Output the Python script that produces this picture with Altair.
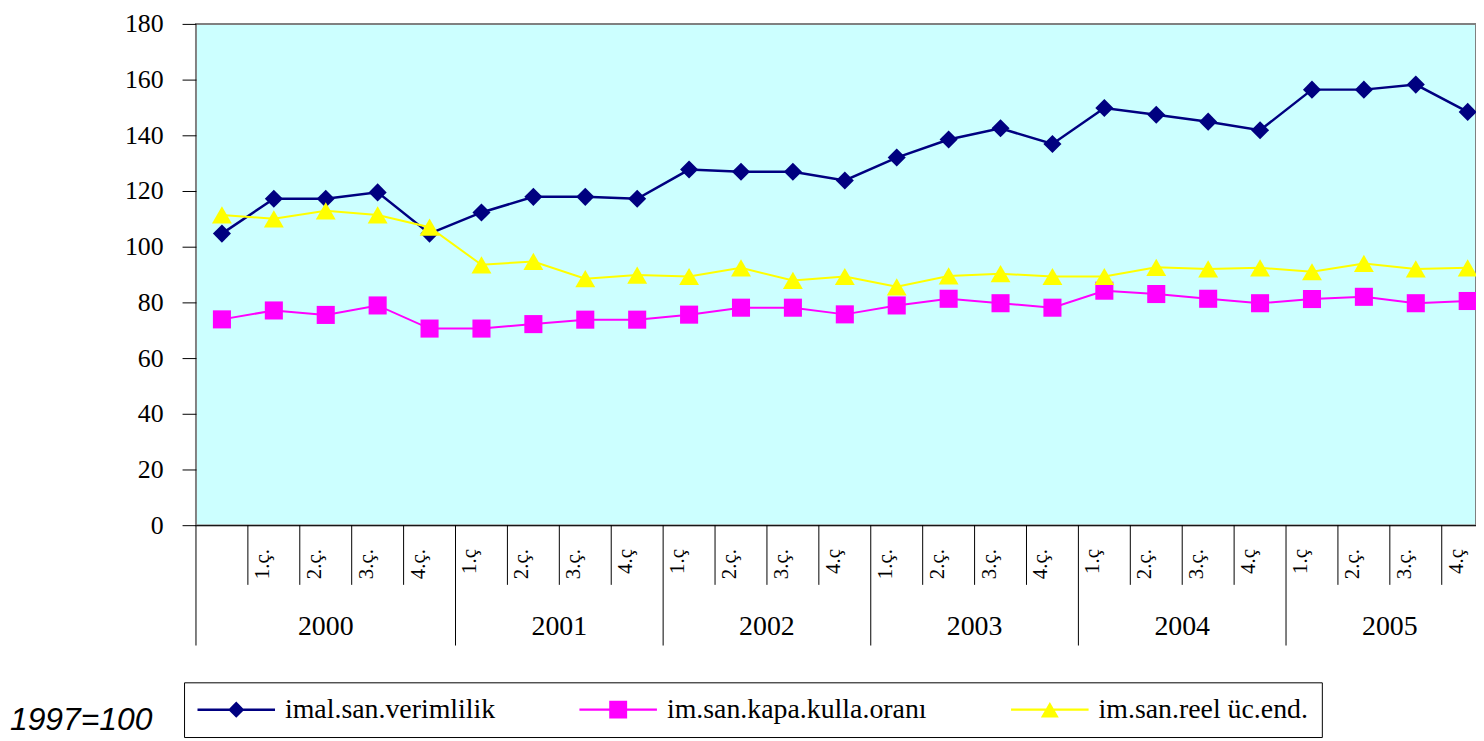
import altair as alt
import pandas as pd

# ---------------- data ----------------
years = ["2000", "2001", "2002", "2003", "2004", "2005"]
period_year = (["2000"] * 5 + ["2001"] * 4 + ["2002"] * 4 + ["2003"] * 4
               + ["2004"] * 4 + ["2005"] * 4)
quarters = ["", "1.ç.", "2.ç.", "3.ç.", "4.ç.",
            "1.ç", "2.ç.", "3.ç.", "4.ç",
            "1.ç", "2.ç.", "3.ç.", "4.ç",
            "1.ç.", "2.ç.", "3.ç.", "4.ç.",
            "1.ç", "2.ç.", "3.ç.", "4.ç",
            "1.ç", "2.ç.", "3.ç.", "4.ç"]

series_names = ["imal.san.verimlilik", "im.san.kapa.kulla.oranı", "im.san.reel üc.end."]
series_colors = ["#000080", "#FF00FF", "#FFFF00"]

verimlilik = [104.7, 117.2, 117.2, 119.5, 104.7, 112.3, 117.9, 117.9, 117.2,
              127.7, 126.9, 126.9, 123.8, 132.0, 138.5, 142.5, 136.9, 149.8,
              147.4, 144.9, 141.8, 156.4, 156.4, 158.2, 148.4]
kapasite = [73.9, 77.1, 75.5, 78.9, 70.6, 70.6, 72.2, 73.8, 73.8, 75.6, 78.1,
            78.1, 75.7, 78.9, 81.3, 79.7, 78.1, 84.2, 83.0, 81.3, 79.7, 81.2,
            82.0, 79.7, 80.5]
ucret = [111.4, 110.0, 112.9, 111.4, 107.0, 93.5, 94.7, 88.5, 89.8, 89.3, 92.4,
         87.9, 89.3, 85.6, 89.5, 90.3, 89.3, 89.3, 92.6, 92.0, 92.4, 91.0, 94.0,
         92.0, 92.4]

note_text = "1997=100"

# ---------------- tables ----------------
n = len(quarters)
idx = list(range(n))
df = pd.DataFrame({
    "idx": idx * 3,
    "series": [s for s in series_names for _ in idx],
    "value": verimlilik + kapasite + ucret,
})
qdf = pd.DataFrame({"idx": idx, "q": quarters})
ydf = pd.DataFrame({
    "year": years,
    "center": [sum(i for i in idx if period_year[i] == y) / period_year.count(y) for y in years],
})
sdf = pd.DataFrame({
    "b": [i - 0.5 for i in idx],
    "long": [i == 0 or period_year[i] != period_year[i - 1] for i in idx],
})

# ---------------- layout ----------------
W, H = 1287, 504          # plot area (page x 197..1484, y 22..526)
SERIF = "Liberation Serif"

x_scale = alt.Scale(domain=[-0.5, 24.16], nice=False, zero=False)
y_scale = alt.Scale(domain=[0, 180], nice=False, zero=True)

y_axis = alt.Axis(values=list(range(0, 181, 20)), tickSize=14, tickColor="black",
                  tickWidth=1, domain=False, grid=False, labelFont=SERIF,
                  labelFontSize=26, labelColor="black", labelPadding=19,
                  title=None)
x_axis = alt.Axis(labels=False, ticks=False, grid=False, domain=True,
                  domainColor="black", domainWidth=1, title=None)


def X(field):
    return alt.X(field, scale=x_scale, axis=x_axis)


def Y(field):
    return alt.Y(field, scale=y_scale, axis=y_axis)


layers = []
# plot-area background
layers.append(alt.Chart(pd.DataFrame({"k": [0]})).mark_rect(color="#CCFFFF").encode(
    x=alt.value(1), x2=alt.value(W - 1), y=alt.value(1), y2=alt.value(H - 1)))

shapes = ["diamond", "square", "triangle-up"]
sizes = [330, 330, 400]
widths = [2.5, 2, 2]
for k, name in enumerate(series_names):
    base = alt.Chart(df).transform_filter(alt.datum.series == name)
    layers.append(base.mark_line(color=series_colors[k], strokeWidth=widths[k]).encode(
        x=X("idx:Q"), y=Y("value:Q")))
    layers.append(base.mark_point(shape=shapes[k], size=sizes[k], filled=True,
                                  opacity=1, color=series_colors[k]).encode(
        x=X("idx:Q"), y=Y("value:Q")))

# category axis (two levels)
layers.append(alt.Chart(sdf).transform_filter("!datum.long").mark_rule(color="black", strokeWidth=1).encode(
    x=X("b:Q"), y=alt.value(H), y2=alt.value(H + 60)))
layers.append(alt.Chart(sdf).transform_filter("datum.long").mark_rule(color="black", strokeWidth=1).encode(
    x=X("b:Q"), y=alt.value(H), y2=alt.value(H + 121)))
layers.append(alt.Chart(qdf).mark_text(angle=270, align="right", baseline="alphabetic",
                                      font=SERIF, fontSize=21, color="black", xOffset=-5).encode(
    x=X("idx:Q"), y=alt.value(H + 24), text="q:N"))
layers.append(alt.Chart(ydf).mark_text(align="center", baseline="alphabetic", font=SERIF,
                                      fontSize=28, color="black").encode(
    x=X("center:Q"), y=alt.value(H + 110.5), text="year:N"))

# legend (line + marker symbols)
legend_paths = [
    "M-4.33,-0.14H4.33V0.14H-4.33Z M-0.9,0L0,-0.9L0.9,0L0,0.9Z",
    "M-4.33,-0.12H4.33V0.12H-4.33Z M-1,-1H1V1H-1Z",
    "M-4.33,-0.12H4.33V0.12H-4.33Z M0,-0.87L1,0.87H-1Z",
]
layers.append(alt.Chart(df).transform_filter("false").mark_point(filled=True, opacity=1).encode(
    color=alt.Color("series:N", scale=alt.Scale(domain=series_names, range=series_colors),
                    legend=alt.Legend(title=None)),
    shape=alt.Shape("series:N", scale=alt.Scale(domain=series_names, range=legend_paths),
                    legend=alt.Legend(title=None)),
))

# note
layers.append(alt.Chart(pd.DataFrame({"t": [note_text]})).mark_text(
    font="Liberation Sans", fontStyle="italic", fontSize=32, align="left",
    baseline="alphabetic", color="black").encode(
    x=alt.value(-187), y=alt.value(H + 206), text="t:N"))

chart = alt.layer(*layers).properties(
    width=W, height=H,
    autosize=alt.AutoSizeParams(type="none"),
    padding={"left": 189, "top": 14, "right": 0, "bottom": 214},
).configure_view(
    fill="#CCFFFF", stroke="#808080", strokeWidth=2
).configure_legend(
    orient="none", legendX=-12, legendY=H + 158, direction="horizontal",
    symbolSize=324, symbolStrokeWidth=0, symbolOffset=25, labelOffset=35,
    labelFont=SERIF, labelFontSize=28, labelColor="black", labelLimit=800,
    strokeColor="black", fillColor="white", padding=13.5, columnPadding=84,
)

chart.save("out.html", embed_options={"renderer": "svg", "actions": False})
